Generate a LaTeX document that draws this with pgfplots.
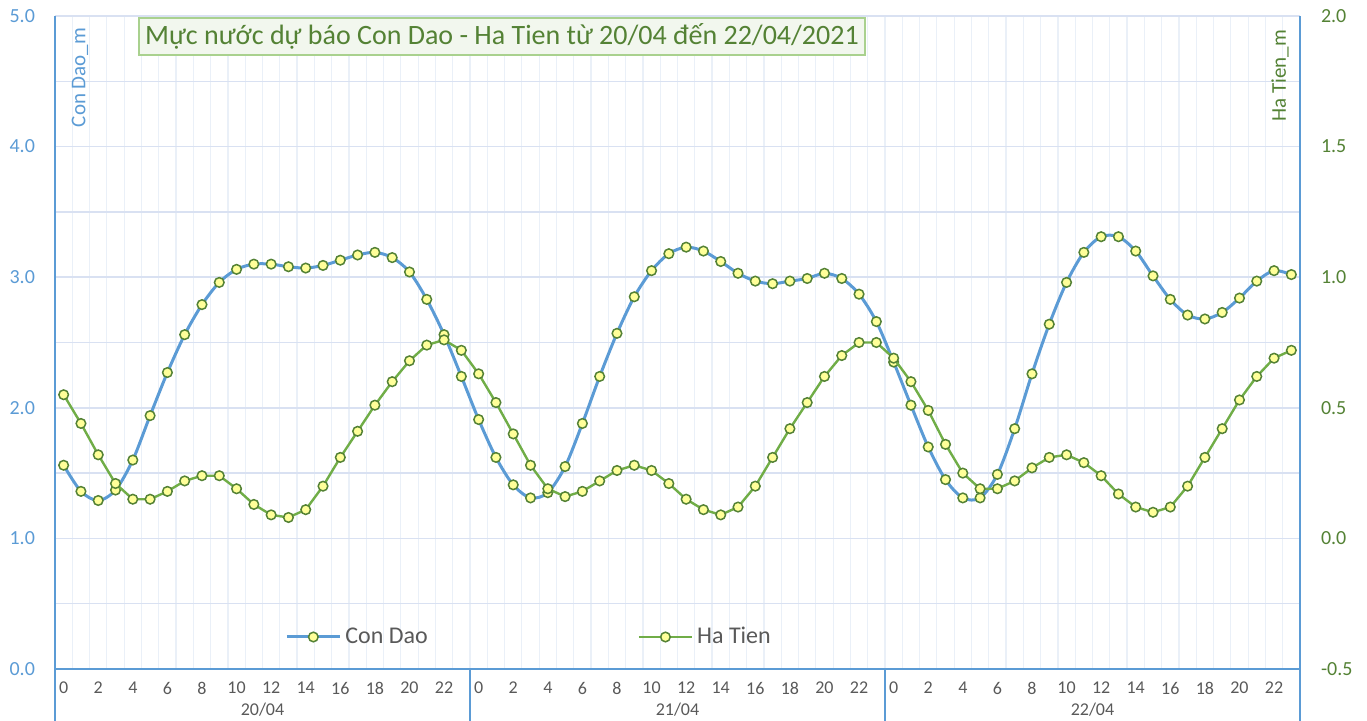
\documentclass[border=0pt]{standalone}
\usepackage{pgfplots}
\usepackage{pgfplotstable}
\pgfplotsset{compat=1.18}
\usepackage{fontspec}
\setmainfont{Carlito}
\definecolor{cdblue}{HTML}{5B9BD5}
\definecolor{htgreen}{HTML}{70AD47}
\definecolor{dkgreen}{HTML}{548235}
\definecolor{mkfill}{HTML}{FFFF99}
\definecolor{gridc}{HTML}{D9E1F2}
\definecolor{vgrid}{HTML}{EAF0F8}
\definecolor{txtgray}{HTML}{595959}
\definecolor{titlefill}{HTML}{F2F7EE}
\definecolor{titleborder}{HTML}{A9D18E}

\pgfplotstableread{
h cd ht
0 1.56 0.55
1 1.36 0.44
2 1.29 0.32
3 1.37 0.21
4 1.60 0.15
5 1.94 0.15
6 2.27 0.18
7 2.56 0.22
8 2.79 0.24
9 2.96 0.24
10 3.06 0.19
11 3.10 0.13
12 3.10 0.09
13 3.08 0.08
14 3.07 0.11
15 3.09 0.20
16 3.13 0.31
17 3.17 0.41
18 3.19 0.51
19 3.15 0.60
20 3.04 0.68
21 2.83 0.74
22 2.56 0.76
23 2.24 0.72
24 1.91 0.63
25 1.62 0.52
26 1.41 0.40
27 1.31 0.28
28 1.35 0.19
29 1.55 0.16
30 1.88 0.18
31 2.24 0.22
32 2.57 0.26
33 2.85 0.28
34 3.05 0.26
35 3.18 0.21
36 3.23 0.15
37 3.20 0.11
38 3.12 0.09
39 3.03 0.12
40 2.97 0.20
41 2.95 0.31
42 2.97 0.42
43 2.99 0.52
44 3.03 0.62
45 2.99 0.70
46 2.87 0.75
47 2.66 0.75
48 2.35 0.69
49 2.02 0.60
50 1.70 0.49
51 1.45 0.36
52 1.31 0.25
53 1.31 0.19
54 1.49 0.19
55 1.84 0.22
56 2.26 0.27
57 2.64 0.31
58 2.96 0.32
59 3.19 0.29
60 3.31 0.24
61 3.31 0.17
62 3.20 0.12
63 3.01 0.10
64 2.83 0.12
65 2.71 0.20
66 2.68 0.31
67 2.73 0.42
68 2.84 0.53
69 2.97 0.62
70 3.05 0.69
71 3.02 0.72
}\datatable

\pgfplotsset{
  mymark/.style={mark=*, mark size=2.4pt, mark options={solid, fill=mkfill, draw=dkgreen, line width=0.75pt}},
  common/.style={
    at={(0,0)}, anchor=south west,
    scale only axis, width=622.5pt, height=326.5pt,
    xmin=-0.5, xmax=71.5,
    major tick length=0pt, minor tick length=0pt,
    clip=false,
  },
}

\begin{document}
\begin{tikzpicture}
\useasboundingbox (-27.5pt,-26pt) rectangle (656pt,334.5pt);
\begin{axis}[common,
  ymin=0, ymax=5,
  axis x line*=bottom, axis y line*=left,
  axis line style={-, cdblue, line width=0.75pt},
  ytick={0,1,2,3,4,5},
  minor ytick={0.5,1.5,2.5,3.5,4.5},
  ymajorgrids, yminorgrids,
  major grid style={gridc, line width=0.75pt},
  minor y grid style={gridc, line width=0.75pt},
  xtick={0,2,...,70},
  xticklabels={0,2,4,6,8,10,12,14,16,18,20,22,0,2,4,6,8,10,12,14,16,18,20,22,0,2,4,6,8,10,12,14,16,18,20,22},
  minor xtick={0.5,1.5,...,70.5},
  xminorgrids,
  minor x grid style={vgrid, line width=0.6pt},
  xmajorgrids=false,
  yticklabel={\pgfmathprintnumber[fixed,fixed zerofill,precision=1,assume math mode=true]{\tick}},
  yticklabel style={font=\fontsize{10}{12}\selectfont, text=cdblue, xshift=-6.5pt},
  xticklabel style={font=\fontsize{9}{11}\selectfont, text=txtgray, yshift=-3pt},
  extra x ticks={11.5,35.5,59.5},
  extra x tick labels={20/04,21/04,22/04},
  extra x tick style={grid=none, major tick length=0pt, tick label style={yshift=-14pt, inner sep=0pt, font=\fontsize{9}{11}\selectfont, text=txtgray}},
]
\addplot[cdblue, line width=1.5pt, smooth, mymark] table[x=h, y=cd] {\datatable};
\draw[cdblue, line width=0.75pt] (axis cs:-0.5,0) -- ([yshift=-26pt]axis cs:-0.5,0);
\draw[cdblue, line width=0.75pt] (axis cs:23.5,0) -- ([yshift=-26pt]axis cs:23.5,0);
\draw[cdblue, line width=0.75pt] (axis cs:47.5,0) -- ([yshift=-26pt]axis cs:47.5,0);
\draw[cdblue, line width=0.75pt] (axis cs:71.5,0) -- ([yshift=-26pt]axis cs:71.5,0);
\node[fill=titlefill, draw=titleborder, line width=0.75pt, minimum width=363pt, minimum height=18.5pt, inner sep=0pt, text=dkgreen, font=\fontsize{14}{16}\selectfont] at (rel axis cs:0.359,0.9686) {Mực nước dự báo Con Dao - Ha Tien từ 20/04 đến 22/04/2021};
\node[rotate=90, text=cdblue, font=\fontsize{10.5}{12}\selectfont] at ([xshift=12.5pt, yshift=-30.75pt]rel axis cs:0,1) {Con Dao\_m};
\end{axis}
\begin{axis}[common,
  ymin=-0.5, ymax=2.0,
  axis x line=none, axis y line*=right,
  axis line style={-, cdblue, line width=0.75pt},
  ytick={-0.5,0,0.5,1,1.5,2},
  yticklabel={\pgfmathprintnumber[fixed,fixed zerofill,precision=1,assume math mode=true]{\tick}},
  yticklabel style={font=\fontsize{10}{12}\selectfont, text=dkgreen, xshift=7pt},
  legend columns=2,
  legend style={draw=none, fill=none, at={(0.1847,0.049)}, anchor=west, inner sep=0pt,
    font=\fontsize{12}{14}\selectfont, text=txtgray,
    /tikz/every even column/.append style={column sep=103pt}},
  legend image code/.code={\draw[mark repeat=2, mark phase=2] plot coordinates {(0pt,0pt) (13.25pt,0pt) (26.5pt,0pt)};},
]
\addlegendimage{cdblue, line width=1.5pt, mymark}
\addlegendentry{Con Dao}
\addplot[htgreen, line width=1.2pt, mymark] table[x=h, y=ht] {\datatable};
\addlegendentry{Ha Tien}
\node[rotate=90, text=dkgreen, font=\fontsize{10.5}{12}\selectfont] at ([xshift=-10pt, yshift=-30pt]rel axis cs:1,1) {Ha Tien\_m};
\end{axis}
\end{tikzpicture}
\end{document}
